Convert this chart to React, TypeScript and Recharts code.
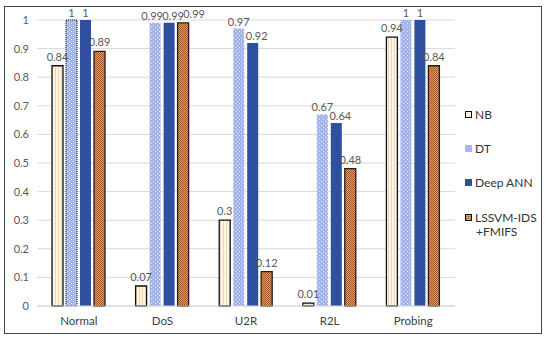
import { BarChart, Bar, XAxis, YAxis, CartesianGrid, LabelList, Cell } from 'recharts';

const categories = ['Normal', 'DoS', 'U2R', 'R2L', 'Probing'];
const nb = [0.84, 0.07, 0.3, 0.01, 0.94];
const dt = [1, 0.99, 0.97, 0.67, 1];
const deepAnn = [1, 0.99, 0.92, 0.64, 1];
const lssvm = [0.89, 0.99, 0.12, 0.48, 0.84];
const yTicks = [0, 0.1, 0.2, 0.3, 0.4, 0.5, 0.6, 0.7, 0.8, 0.9, 1];

const data = categories.map((name, i) => ({
  name,
  nb: nb[i],
  dt: dt[i],
  deep: deepAnn[i],
  lssvm: lssvm[i],
}));

const FONT = 'Lato, "Noto Sans", sans-serif';
const TXT = '#595959';

// horizontal nudges for crowded value labels, like Excel does
const dtShift = [0, -3, 0, 0, 0];
const deepShift = [0, 4, 4, 4, 0];
const lsShift = [0, 11, 0, 0, 0];

function makeLabel(shift: number[], gap: number) {
  return (p: any) => {
    const { x, y, width, value, index } = p;
    const dx = shift[index] ?? 0;
    return (
      <text
        x={Number(x) + Number(width) / 2 + dx}
        y={Number(y) - gap}
        textAnchor="middle"
        fontSize={11}
        fill={TXT}
        fontFamily={FONT}
      >
        {value}
      </text>
    );
  };
}

function LegendIcon({ kind }: { kind: string }) {
  const base = { display: 'inline-block', width: 7, height: 7, marginRight: 3, verticalAlign: 'middle', position: 'relative', top: -1 } as const;
  if (kind === 'nb') return <span style={{ ...base, width: 5, height: 5, border: '1.5px solid #111', background: '#fdf3e1' }} />;
  if (kind === 'dt') return <span style={{ ...base, background: '#a8b8ea' }} />;
  if (kind === 'deep') return <span style={{ ...base, background: '#2f4f9f' }} />;
  return (
    <span
      style={{
        ...base,
        width: 5,
        height: 5,
        border: '1.5px solid #111',
        backgroundColor: '#f09a3a',
        backgroundImage: 'linear-gradient(45deg, #a05a28 25%, transparent 25%, transparent 75%, #a05a28 75%)',
        backgroundSize: '2px 2px',
      }}
    />
  );
}

const legendItems = [
  { kind: 'nb', lines: ['NB'], top: 108 },
  { kind: 'dt', lines: ['DT'], top: 142 },
  { kind: 'deep', lines: ['Deep ANN'], top: 176 },
  { kind: 'lssvm', lines: ['LSSVM-IDS', '+FMIFS'], top: 211 },
];

export default function App() {
  return (
    <div style={{ position: 'absolute', left: 0, top: 0, width: 550, height: 340, background: '#fff', fontFamily: FONT }}>
      <div
        style={{
          position: 'absolute',
          left: 4,
          top: 6,
          width: 538,
          height: 328,
          border: '1.5px solid #444',
          boxSizing: 'border-box',
        }}
      />
      <BarChart
        width={550}
        height={340}
        data={data}
        margin={{ top: 20, right: 95, bottom: 0, left: 0 }}
        barSize={11}
        barGap={3}
      >
        <defs>
          <pattern id="nbPat" width="3" height="4" patternUnits="userSpaceOnUse">
            <rect width="3" height="4" fill="#fdf5e6" />
            <rect x="1" width="1" height="4" fill="#f0d6b0" />
          </pattern>
          <pattern id="dtPat" width="4" height="4" patternUnits="userSpaceOnUse">
            <rect width="4" height="4" fill="#a3b4e8" />
            <rect x="1" y="1" width="1" height="1" fill="#e6ecfb" />
            <rect x="3" y="3" width="1" height="1" fill="#e6ecfb" />
          </pattern>
          <pattern id="lsPat" width="2" height="2" patternUnits="userSpaceOnUse">
            <rect width="2" height="2" fill="#f29a3a" />
            <rect width="1" height="1" fill="#a05a28" />
            <rect x="1" y="1" width="1" height="1" fill="#a05a28" />
          </pattern>
        </defs>
        <CartesianGrid vertical={false} stroke="#d9d9d9" />
        <XAxis
          dataKey="name"
          height={34}
          tickLine={false}
          axisLine={{ stroke: '#d9d9d9' }}
          tickMargin={5}
          tick={{ fontSize: 11.5, fill: '#404040', fontFamily: FONT }}
        />
        <YAxis
          width={37}
          domain={[0, 1]}
          ticks={yTicks}
          axisLine={false}
          tickLine={false}
          tick={{ fontSize: 11, fill: TXT, fontFamily: FONT }}
        />
        <Bar dataKey="nb" fill="url(#nbPat)" stroke="#111" strokeWidth={1.3} isAnimationActive={false}>
          <LabelList dataKey="nb" content={makeLabel([0, 0, 0, 0, 0], 5)} />
        </Bar>
        <Bar dataKey="dt" fill="url(#dtPat)" isAnimationActive={false}>
          {data.map((d, i) => (
            <Cell key={i} stroke={i === 0 ? '#111' : 'none'} strokeDasharray={i === 0 ? '1 1' : undefined} />
          ))}
          <LabelList dataKey="dt" content={makeLabel(dtShift, 3)} />
        </Bar>
        <Bar dataKey="deep" fill="#2f4f9f" isAnimationActive={false}>
          <LabelList dataKey="deep" content={makeLabel(deepShift, 3)} />
        </Bar>
        <Bar dataKey="lssvm" fill="url(#lsPat)" stroke="#2a1a10" strokeWidth={1.3} isAnimationActive={false}>
          <LabelList dataKey="lssvm" content={makeLabel(lsShift, 5)} />
        </Bar>
      </BarChart>
      {legendItems.map((it) => (
        <div key={it.kind} style={{ position: 'absolute', left: 465, top: it.top, fontSize: 12, color: '#333', lineHeight: '14px' }}>
          {it.lines.map((ln, j) => (
            <div key={j} style={{ paddingLeft: j === 0 ? 0 : 11 }}>
              {j === 0 && <LegendIcon kind={it.kind} />}
              {ln}
            </div>
          ))}
        </div>
      ))}
    </div>
  );
}
